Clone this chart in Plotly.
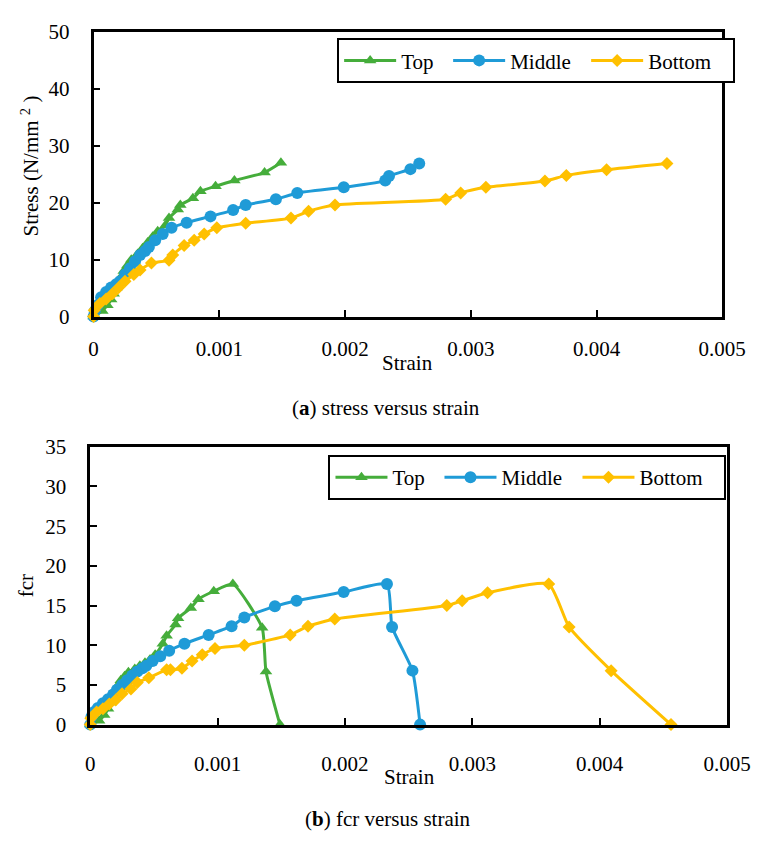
import plotly.graph_objects as go

# ---------------- (a) stress versus strain ----------------
top_strain_a = [0, 0.00007, 0.00011, 0.00014, 0.00016, 0.00018, 0.00020, 0.00022, 0.00024, 0.00027,
                0.00030, 0.00035, 0.00039, 0.00043, 0.00047, 0.00051, 0.00057, 0.00060, 0.00067, 0.00069,
                0.00079, 0.00085, 0.00097, 0.00112, 0.00136, 0.00149]
top_stress_a = [0, 1, 2, 3, 4, 5, 6, 7, 8, 9,
                10, 11, 12, 13, 14, 15, 16, 17.3, 18.8, 19.6,
                20.8, 22, 22.9, 23.9, 25.3, 27]

mid_strain_a = [0, 0.00001, 0.00003, 0.00006, 0.00010, 0.00014, 0.00018, 0.00021, 0.00025, 0.00029,
                0.00033, 0.00037, 0.00041, 0.00044, 0.00049, 0.00055, 0.00062, 0.00074, 0.00093, 0.00111,
                0.00121, 0.00145, 0.00162, 0.00199, 0.00232, 0.00235, 0.00252, 0.00259]
mid_stress_a = [0, 1, 2, 3.4, 4.3, 5.1, 5.7, 6.2, 7.4, 8.5,
                9.7, 10.8, 11.5, 12.2, 13.4, 14.5, 15.6, 16.5, 17.6, 18.7,
                19.6, 20.6, 21.7, 22.7, 23.9, 24.7, 25.9, 26.9]

bot_strain_a = [0, 0.000005, 0.00005, 0.00010, 0.00015, 0.00020, 0.00025, 0.00032, 0.00037, 0.00046,
                0.00060, 0.00063, 0.00072, 0.00080, 0.00088, 0.00098, 0.00121, 0.00157, 0.00171, 0.00192,
                0.00280, 0.00292, 0.00312, 0.00359, 0.00376, 0.00408, 0.00456]
bot_stress_a = [0, 1.1, 2.3, 3.1, 4.0, 5.1, 6.2, 7.4, 8.2, 9.4,
                9.9, 10.8, 12.5, 13.4, 14.5, 15.6, 16.4, 17.3, 18.5, 19.6,
                20.6, 21.7, 22.7, 23.8, 24.8, 25.8, 26.9]

# ---------------- (b) fcr versus strain ----------------
top_strain_b = [0, 0.00007, 0.00011, 0.00014, 0.00016, 0.00018, 0.00020, 0.00022, 0.00024, 0.00027,
                0.00030, 0.00035, 0.00039, 0.00043, 0.00047, 0.00051, 0.00057, 0.00060, 0.00067, 0.00069,
                0.00079, 0.00085, 0.00097, 0.00112, 0.00135, 0.00138, 0.00149]
top_fcr_b = [0, 0.5, 1.2, 2.0, 2.8, 3.5, 4.3, 5.0, 5.6, 6.1,
             6.6, 7.0, 7.4, 7.8, 8.2, 8.8, 10.2, 11.2, 12.6, 13.4,
             14.7, 15.8, 16.8, 17.7, 12.2, 6.7, 0]

mid_strain_b = [0, 0.00001, 0.00003, 0.00006, 0.00010, 0.00014, 0.00018, 0.00021, 0.00025, 0.00029,
                0.00033, 0.00037, 0.00041, 0.00044, 0.00049, 0.00055, 0.00062, 0.00074, 0.00093, 0.00111,
                0.00121, 0.00145, 0.00162, 0.00199, 0.00233, 0.00237, 0.00253, 0.00259]
mid_fcr_b = [0, 1.0, 1.6, 2.1, 2.7, 3.2, 3.8, 4.4, 5.0, 5.6,
             6.2, 6.7, 7.1, 7.4, 8.0, 8.6, 9.3, 10.2, 11.3, 12.4,
             13.5, 14.9, 15.6, 16.7, 17.7, 12.3, 6.8, 0]

bot_strain_b = [0, 0.000005, 0.00005, 0.00010, 0.00015, 0.00020, 0.00025, 0.00032, 0.00037, 0.00046,
                0.00060, 0.00063, 0.00072, 0.00080, 0.00088, 0.00098, 0.00121, 0.00157, 0.00171, 0.00192,
                0.00280, 0.00292, 0.00312, 0.00360, 0.00376, 0.00409, 0.00456]
bot_fcr_b = [0, 0.8, 1.6, 2.0, 2.6, 3.1, 3.9, 4.5, 5.3, 5.9,
             6.9, 6.9, 7.1, 8.0, 8.8, 9.6, 10.0, 11.3, 12.4, 13.3,
             15.0, 15.6, 16.6, 17.7, 12.3, 6.8, 0]

series_names = ["Top", "Middle", "Bottom"]
x_tickvals = [0, 0.001, 0.002, 0.003, 0.004, 0.005]
x_ticktext = ["0", "0.001", "0.002", "0.003", "0.004", "0.005"]
y_ticks_a = [0, 10, 20, 30, 40, 50]
y_ticks_b = [0, 5, 10, 15, 20, 25, 30, 35]

COLORS = ["#45AD3B", "#1F9BD7", "#FFC000"]
SYMBOLS = ["triangle-up", "circle", "diamond"]
MSIZE = [11, 12, 10]
LEGEND_W = [42, 71, 80]          # horizontal room given to each legend entry
FONT = "'Liberation Serif', 'Times New Roman', serif"
FS = 21
W, H = 778, 843


def px(x):
    return x / W


def py(y):
    return 1 - y / H


fig = go.Figure()

panel_a = [(top_strain_a, top_stress_a), (mid_strain_a, mid_stress_a), (bot_strain_a, bot_stress_a)]
panel_b = [(top_strain_b, top_fcr_b), (mid_strain_b, mid_fcr_b), (bot_strain_b, bot_fcr_b)]

for axes, legend_id, panel in [(("x", "y"), "legend", panel_a), (("x2", "y2"), "legend2", panel_b)]:
    for i, (xs, ys) in enumerate(panel):
        fig.add_trace(go.Scatter(
            x=xs, y=ys, name=series_names[i], mode="lines+markers",
            line=dict(color=COLORS[i], width=3, shape="spline", smoothing=0.5),
            marker=dict(symbol=SYMBOLS[i], size=MSIZE[i], color=COLORS[i]),
            xaxis=axes[0], yaxis=axes[1], legend=legend_id, legendwidth=LEGEND_W[i],
            cliponaxis=False))

axis_common = dict(showline=True, linecolor="black", linewidth=2.5, mirror=True,
                   ticks="inside", ticklen=7, tickwidth=2, tickcolor="black",
                   showgrid=False, zeroline=False,
                   tickfont=dict(family=FONT, size=FS, color="black"))

legend_common = dict(orientation="h", xanchor="left", yanchor="top",
                     bgcolor="white", bordercolor="black", borderwidth=2,
                     itemwidth=52, entrywidthmode="pixels",
                     font=dict(family=FONT, size=FS, color="black"))

fig.update_layout(
    width=W, height=H,
    margin=dict(l=0, r=0, t=0, b=0),
    paper_bgcolor="white", plot_bgcolor="white",
    font=dict(family=FONT, size=FS, color="black"),
    xaxis=dict(domain=[px(92), px(745)], range=[0, 0.005], anchor="y",
               tickvals=x_tickvals, ticktext=x_ticktext, ticklabelstandoff=11, **axis_common),
    yaxis=dict(domain=[py(313.5), py(20.5)], range=[0, 50], anchor="x",
               tickvals=y_ticks_a, ticktext=[str(v) for v in y_ticks_a], ticklabelstandoff=17, **axis_common),
    xaxis2=dict(domain=[px(88.5), px(750)], range=[0, 0.005], anchor="y2",
                tickvals=x_tickvals, ticktext=x_ticktext, ticklabelstandoff=18, **axis_common),
    yaxis2=dict(domain=[py(733.5), py(447.5)], range=[0, 35], anchor="x2",
                tickvals=y_ticks_b, ticktext=[str(v) for v in y_ticks_b], ticklabelstandoff=17, **axis_common),
    legend=dict(x=px(345), y=py(27), **legend_common),
    legend2=dict(x=px(336), y=py(456), **legend_common),
    showlegend=True,
)

labels = [
    dict(text="Strain", x=px(418), y=py(361), textangle=0),
    dict(text="Stress (N/mm <sup>2</sup> )", x=px(26), y=py(159), textangle=-90),
    dict(text="(<b>a</b>) stress versus strain", x=px(396), y=py(408), textangle=0),
    dict(text="Strain", x=px(420), y=py(787), textangle=0),
    dict(text="fcr", x=px(22), y=py(591), textangle=-90),
    dict(text="(<b>b</b>) fcr versus strain", x=px(398), y=py(831), textangle=0),
]
for lab in labels:
    fig.add_annotation(text=lab["text"], x=lab["x"], y=lab["y"], xref="paper", yref="paper",
                       xanchor="center", yanchor="middle", showarrow=False, textangle=lab["textangle"],
                       font=dict(family=FONT, size=FS, color="black"))

fig.write_html("out.html")
